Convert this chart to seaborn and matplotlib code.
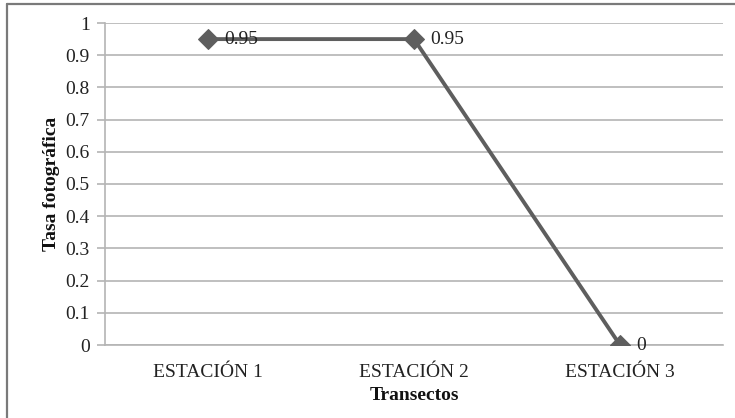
import matplotlib
matplotlib.use("Agg")
import matplotlib.pyplot as plt
import seaborn as sns
import pandas as pd
from matplotlib.lines import Line2D

# Data
estaciones = ["ESTACIÓN 1", "ESTACIÓN 2", "ESTACIÓN 3"]
tasa = [0.95, 0.95, 0]
etiquetas = ["0.95", "0.95", "0"]
y_ticks = [0, 0.1, 0.2, 0.3, 0.4, 0.5, 0.6, 0.7, 0.8, 0.9, 1]
y_ticklabels = ["0", "0.1", "0.2", "0.3", "0.4", "0.5", "0.6", "0.7", "0.8", "0.9", "1"]

sns.set_theme(style="white")
plt.rcParams["font.family"] = ["Liberation Serif", "DejaVu Serif"]

df = pd.DataFrame({"Transectos": estaciones, "Tasa": tasa})

W, H = 735, 418
fig = plt.figure(figsize=(W / 100, H / 100), dpi=100)
ax = fig.add_axes([105 / W, 1 - 345 / H, 618 / W, 322 / H])

grid_col = "#b4b4b4"
line_col = "#5e5e5e"

ax.set_ylim(0, 1)
ax.set_xlim(-0.5, 2.5)
ax.set_yticks(y_ticks)
ax.set_yticklabels(y_ticklabels)
ax.yaxis.grid(True, color=grid_col, linewidth=1.2)
ax.set_axisbelow(True)

sns.lineplot(data=df, x="Transectos", y="Tasa", ax=ax, color=line_col,
             linewidth=2.8, marker="D", markersize=10, markeredgecolor=line_col,
             sort=False, zorder=3)

for i, (v, lab) in enumerate(zip(tasa, etiquetas)):
    ax.annotate(lab, (i, v), xytext=(12, 0), textcoords="offset points",
                ha="left", va="center", fontsize=14, color="#222222", zorder=4)

for side in ["top", "right"]:
    ax.spines[side].set_visible(False)
for side in ["left", "bottom"]:
    ax.spines[side].set_color(grid_col)
    ax.spines[side].set_linewidth(1.2)

ax.tick_params(axis="y", which="major", left=True, length=6, width=1.2,
               color=grid_col, labelsize=14, labelcolor="#222222", pad=5)
ax.tick_params(axis="x", which="major", bottom=False, labelsize=14,
               labelcolor="#222222", pad=8)

ax.set_xlabel("Transectos", fontsize=14, fontweight="bold", color="#111111", labelpad=4)
ax.set_ylabel("Tasa fotográfica", fontsize=14, fontweight="bold", color="#111111", labelpad=4)

# Chart area frame (left and top edges)
frame_col = "#7a7a7a"
fig.add_artist(Line2D([7.5 / W, 7.5 / W], [0, 1 - 4 / H], transform=fig.transFigure,
                      color=frame_col, linewidth=1.6))
fig.add_artist(Line2D([7.5 / W, 1], [1 - 4 / H, 1 - 4 / H], transform=fig.transFigure,
                      color=frame_col, linewidth=1.6))

fig.savefig("out.png", dpi=100)
